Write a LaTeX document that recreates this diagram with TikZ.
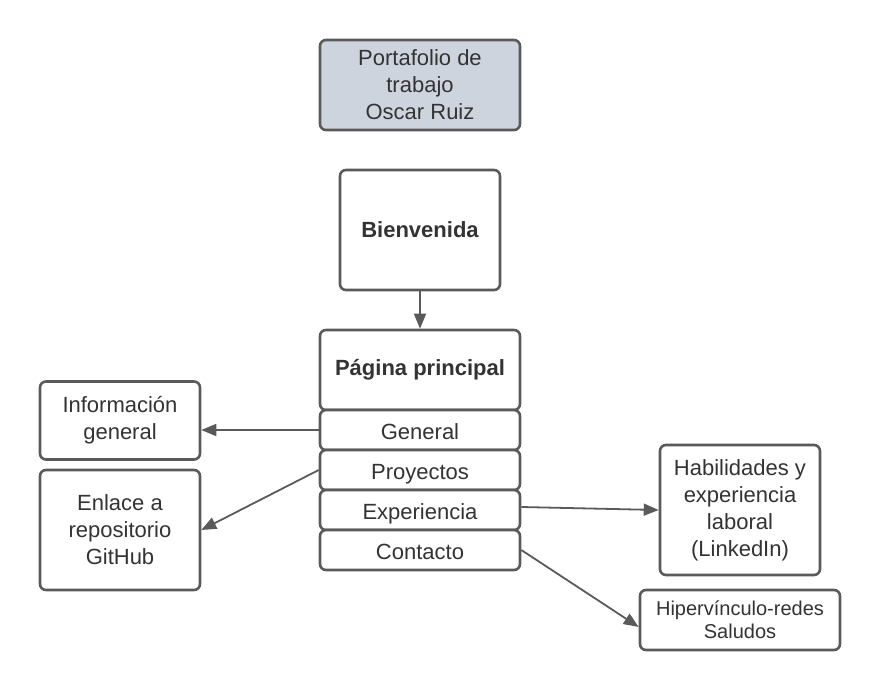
\documentclass[tikz,border=0pt]{standalone}
\usepackage{fontspec}
\setmainfont{Liberation Sans}
\usetikzlibrary{arrows.meta,calc}
\definecolor{edge}{RGB}{90,90,90}
\definecolor{txt}{RGB}{51,51,51}
\definecolor{titlefill}{RGB}{206,212,222}
\begin{document}
\begin{tikzpicture}[x=1pt,y=-1pt,
  box/.style={draw=edge,line width=2.6pt,rounded corners=6pt,fill=white,text=txt,align=center,font=\fontsize{22}{27}\selectfont,inner sep=0pt},
  item/.style={box,minimum width=200pt,minimum height=40pt,text height=21pt,text depth=3pt},
  conn/.style={draw=edge,line width=1.8pt,-{Triangle[length=15pt,width=12pt]}}]
\useasboundingbox (0,0) rectangle (880,690);
\node[box,fill=titlefill,minimum width=200pt,minimum height=90pt] (title) at (420,85) {Portafolio de\\trabajo\\Oscar Ruiz};
\node[box,minimum width=160pt,minimum height=120pt,font=\fontsize{22}{27}\selectfont\bfseries] (bien) at (420,230) {Bienvenida};
\node[box,minimum width=200pt,minimum height=80pt,font=\fontsize{22}{27}\selectfont\bfseries] (pag) at (420,370) {Página principal};
\node[item] (gen) at (420,430) {General};
\node[item] (proy) at (420,470) {Proyectos};
\node[item] (exp) at (420,510) {Experiencia};
\node[item] (cont) at (420,550) {Contacto};
\node[box,minimum width=160pt,minimum height=78pt] (info) at (120,420.5) {Información\\general};
\node[box,minimum width=160pt,minimum height=120pt] (enl) at (120,530) {Enlace a\\repositorio\\GitHub};
\node[box,minimum width=160pt,minimum height=130pt] (hab) at (740,510) {Habilidades y\\experiencia\\laboral\\(LinkedIn)};
\node[box,minimum width=200pt,minimum height=60pt,font=\fontsize{20}{23}\selectfont] (hip) at (740,620) {Hipervínculo-redes\\Saludos};
\draw[conn] (bien.south) -- (pag.north);
\draw[conn] (gen.west) -- (gen.west -| info.east);
\draw[conn] (proy.west) -- (enl.east);
\draw[conn] ([yshift=3pt]exp.east) -- (hab.west);
\draw[conn] (cont.east) -- ([yshift=-7pt]hip.west);
\end{tikzpicture}
\end{document}
